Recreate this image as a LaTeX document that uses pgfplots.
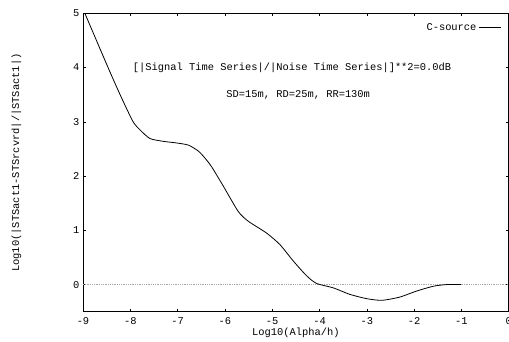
\documentclass[border=0pt]{standalone}
\usepackage{pgfplots}
\pgfplotsset{compat=1.18}
\usepackage{fontspec}
\setmainfont{Liberation Mono}
\begin{document}
\begin{tikzpicture}[font=\fontsize{10.4bp}{12bp}\selectfont]
\begin{axis}[
  scale only axis,
  width=425.7bp, height=298.4bp,
  xmin=-9, xmax=0, ymin=-0.5, ymax=5,
  xtick={-9,-8,-7,-6,-5,-4,-3,-2,-1,0},
  xticklabels={-9,-8,-7,-6,-5,-4,-3,-2,-1,0},
  ytick={0,1,2,3,4,5},
  yticklabels={0,1,2,3,4,5},
  xticklabel style={yshift=-2bp},
  tick pos=both,
  tick align=inside,
  major tick length=3bp,
  tick style={black, line width=0.6bp},
  axis line style={black, line width=0.9bp},
  xlabel={Log10(Alpha/h)},
  ylabel={Log10(|STSact1-STSrcvrd|/|STSact1|)},
  xlabel style={at={(axis description cs:0.5,-0.0714)}, anchor=center},
  ylabel style={at={(axis description cs:-0.1562,0.5)}, anchor=center},
  legend plot pos=right,
  legend style={draw=none, fill=none, at={(rel axis cs:0.99,0.98)}, anchor=north east, font=\fontsize{10.4bp}{12bp}\selectfont},
  legend image code/.code={\draw[#1] (3bp,0bp) -- (25bp,0bp);},
]
\addplot[gray!70, densely dotted, line width=0.8bp, forget plot] coordinates {(-9,0) (0,0)};
\addplot[black, line width=0.8bp, smooth, tension=0.4] coordinates {
(-9.00,5.08) (-8.47,4.00) (-8.20,3.47) (-7.94,3.00) (-7.77,2.83) (-7.58,2.69)
(-7.30,2.64) (-7.02,2.61) (-6.77,2.57) (-6.56,2.46) (-6.42,2.33) (-6.28,2.17)
(-6.03,1.81) (-5.72,1.35) (-5.51,1.17) (-5.12,0.95) (-4.84,0.74) (-4.55,0.43)
(-4.27,0.16) (-4.06,0.02) (-3.71,-0.06) (-3.36,-0.18) (-3.00,-0.26) (-2.68,-0.29)
(-2.30,-0.23) (-1.95,-0.12) (-1.59,-0.03) (-1.31,0.00) (-1.00,0.00)
};
\addlegendentry{C-source}
\node at (axis cs:-4.58,4.0) {[|Signal Time Series|/|Noise Time Series|]**2=0.0dB};
\node at (axis cs:-4.45,3.5) {SD=15m, RD=25m, RR=130m};
\end{axis}
\pgfresetboundingbox
\path[use as bounding box] ([xshift=-83bp,yshift=-29.3bp]current axis.south west) rectangle ([xshift=0.3bp,yshift=13.3bp]current axis.north east);
\end{tikzpicture}
\end{document}
